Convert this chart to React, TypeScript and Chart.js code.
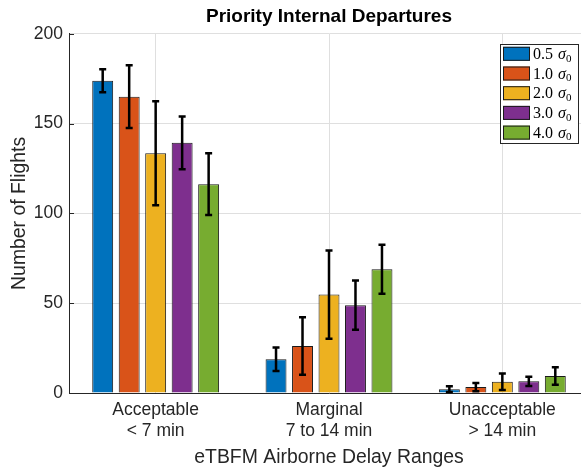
import React, { useEffect, useRef } from "react";
import { Chart, registerables } from "chart.js";

Chart.register(...registerables);

// ---------- data ----------
const categories: string[][] = [
  ["Acceptable", "< 7 min"],
  ["Marginal", "7 to 14 min"],
  ["Unacceptable", "> 14 min"],
];
const sigmaLevels = ["0.5", "1.0", "2.0", "3.0", "4.0"];

const values05 = [173.8, 18.8, 2.1];
const values10 = [165.0, 26.2, 3.3];
const values20 = [133.5, 54.8, 6.3];
const values30 = [139.3, 48.9, 6.5];
const values40 = [116.3, 68.9, 9.5];

const errors05 = [6.4, 6.5, 1.6];
const errors10 = [17.5, 16.0, 2.3];
const errors20 = [29.0, 24.6, 4.6];
const errors30 = [14.7, 13.7, 2.6];
const errors40 = [17.2, 13.7, 4.9];

const yTickValues = [0, 50, 100, 150, 200];

const seriesValues = [values05, values10, values20, values30, values40];
const seriesErrors = [errors05, errors10, errors20, errors30, errors40];
const seriesColors = ["#0072BD", "#D95319", "#EDB120", "#7E2F8E", "#77AC30"];

const SANS = "'Liberation Sans', Arial, Helvetica, sans-serif";
const SERIF = "'Liberation Serif', 'DejaVu Serif', serif";
const TEXT = "#262626";

const errorBarPlugin = {
  id: "errorBars",
  afterDatasetsDraw(chart: any) {
    const ctx = chart.ctx;
    const y = chart.scales.y;
    chart.data.datasets.forEach((ds: any, i: number) => {
      const meta = chart.getDatasetMeta(i);
      meta.data.forEach((el: any, j: number) => {
        const v = ds.data[j];
        const e = ds.errors[j];
        const yt = y.getPixelForValue(v + e);
        const yb = y.getPixelForValue(v - e);
        ctx.save();
        ctx.strokeStyle = "#000";
        ctx.lineWidth = 2.5;
        ctx.lineCap = "butt";
        ctx.beginPath();
        ctx.moveTo(el.x, yt);
        ctx.lineTo(el.x, yb);
        ctx.moveTo(el.x - 3.5, yt);
        ctx.lineTo(el.x + 3.5, yt);
        ctx.moveTo(el.x - 3.5, yb);
        ctx.lineTo(el.x + 3.5, yb);
        ctx.stroke();
        ctx.restore();
      });
    });
  },
};

const tickMarkPlugin = {
  id: "inwardTicks",
  afterDraw(chart: any) {
    const ctx = chart.ctx;
    const y = chart.scales.y;
    const left = chart.chartArea.left;
    ctx.save();
    ctx.strokeStyle = TEXT;
    ctx.lineWidth = 1;
    ctx.beginPath();
    y.ticks.forEach((t: any) => {
      const py = Math.round(y.getPixelForValue(t.value)) + 0.5;
      ctx.moveTo(left, py);
      ctx.lineTo(left + 5, py);
    });
    ctx.stroke();
    ctx.restore();
  },
};

const legendPlugin = {
  id: "boxLegend",
  afterDraw(chart: any) {
    const ctx = chart.ctx;
    const area = chart.chartArea;
    const right = area.right - 11;
    const w = 78;
    const h = 99;
    const left = right - w;
    const top = area.top + 10;
    ctx.save();
    ctx.fillStyle = "#fff";
    ctx.fillRect(left, top, w, h);
    ctx.strokeStyle = TEXT;
    ctx.lineWidth = 1;
    ctx.strokeRect(Math.round(left) + 0.5, Math.round(top) + 0.5, w, h);
    chart.data.datasets.forEach((ds: any, i: number) => {
      const cy = top + 10 + i * 19.7;
      ctx.fillStyle = ds.backgroundColor;
      ctx.fillRect(left + 3, cy - 7, 27, 14);
      ctx.strokeStyle = "#1a1a1a";
      ctx.strokeRect(left + 3.5, cy - 6.5, 26, 13);
      ctx.fillStyle = "#000";
      ctx.textBaseline = "middle";
      ctx.textAlign = "left";
      ctx.font = `16px ${SERIF}`;
      const tx = left + 33;
      const base = ds.sigma + " ";
      ctx.fillText(base, tx, cy + 1);
      let x2 = tx + ctx.measureText(base).width + 1;
      ctx.font = `italic 16px ${SERIF}`;
      ctx.fillText("σ", x2, cy + 1);
      x2 += ctx.measureText("σ").width;
      ctx.font = `11px ${SERIF}`;
      ctx.fillText("0", x2, cy + 5);
    });
    ctx.restore();
  },
};

export default function App() {
  const ref = useRef<HTMLCanvasElement | null>(null);

  useEffect(() => {
    if (!ref.current) return;
    const chart = new Chart(ref.current, {
      type: "bar",
      data: {
        labels: categories,
        datasets: seriesValues.map((vals, i) => ({
          label: sigmaLevels[i] + " σ0",
          sigma: sigmaLevels[i],
          data: vals,
          errors: seriesErrors[i],
          backgroundColor: seriesColors[i],
          borderColor: "#1a1a1a",
          borderWidth: 1,
          categoryPercentage: 0.764,
          barPercentage: 0.79,
        })) as any,
      },
      options: {
        responsive: false,
        animation: false,
        devicePixelRatio: 1,
        layout: { padding: 0 },
        plugins: {
          legend: { display: false },
          tooltip: { enabled: false },
          title: {
            display: true,
            fullSize: false,
            text: "Priority Internal Departures",
            color: "#000",
            font: { family: SANS, size: 19, weight: "bold", lineHeight: 1.2 },
            padding: { top: 5, bottom: 6 },
          },
        },
        scales: {
          x: {
            type: "category",
            offset: true,
            grid: { display: true, offset: false, color: "#dfdfdf", drawTicks: false },
            border: { display: true, color: TEXT, width: 1 },
            ticks: {
              color: TEXT,
              font: { family: SANS, size: 17.5, lineHeight: 1.2 },
              padding: 7,
              maxRotation: 0,
              autoSkip: false,
            },
            title: {
              display: true,
              text: "eTBFM Airborne Delay Ranges",
              color: TEXT,
              font: { family: SANS, size: 19.4, lineHeight: 1.2 },
              padding: { top: 0, bottom: 0 },
            },
            afterFit(scale: any) {
              scale.height = 76;
            },
          },
          y: {
            min: 0,
            max: 200,
            afterBuildTicks(scale: any) {
              scale.ticks = yTickValues.map((v) => ({ value: v }));
            },
            grid: { color: "#dfdfdf", drawTicks: false },
            border: { display: true, color: TEXT, width: 1 },
            ticks: {
              color: TEXT,
              font: { family: SANS, size: 17.5 },
              padding: 6,
            },
            title: {
              display: true,
              text: "Number of Flights",
              color: TEXT,
              font: { family: SANS, size: 19.4, lineHeight: 1.2 },
              padding: { top: 8, bottom: 0 },
            },
            afterFit(scale: any) {
              scale.width = 69;
            },
          },
        },
      },
      plugins: [errorBarPlugin, tickMarkPlugin, legendPlugin],
    });
    return () => chart.destroy();
  }, []);

  return (
    <div
      style={{
        position: "fixed",
        left: 0,
        top: 0,
        width: 581,
        height: 469,
        overflow: "hidden",
        background: "#fff",
      }}
    >
      <canvas ref={ref} width={589} height={469} style={{ display: "block", width: 589, height: 469 }} />
    </div>
  );
}
